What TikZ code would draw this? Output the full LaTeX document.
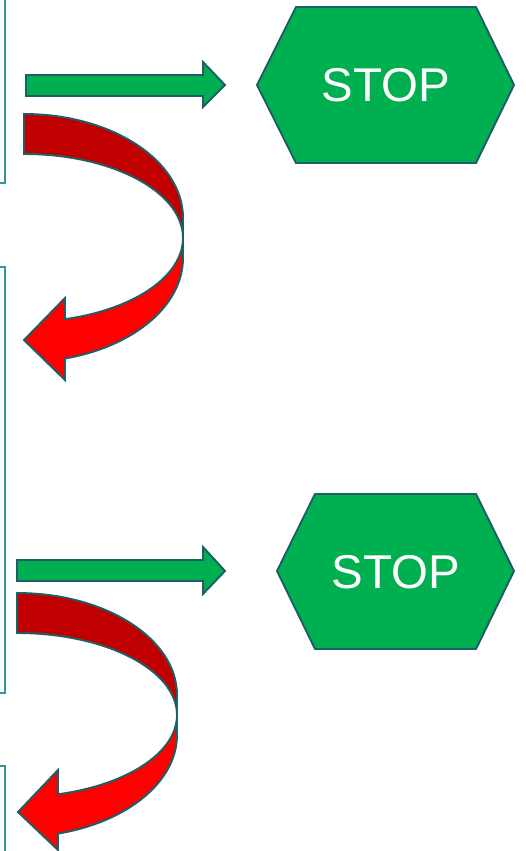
\documentclass[tikz,border=0pt]{standalone}
\usepackage{fontspec}
\setmainfont{Liberation Sans}
\definecolor{stopgreen}{HTML}{00B050}
\definecolor{edgeteal}{RGB}{30,94,102}
\definecolor{frameteal}{RGB}{52,150,152}
\definecolor{backred}{HTML}{C00000}
\definecolor{frontred}{HTML}{FF0000}

\begin{document}
\begin{tikzpicture}[
  x=0.02cm, y=-0.02cm,
  outline/.style={draw=edgeteal, line width=1.1pt},
  stopsign/.style={outline, fill=stopgreen},
  stoptext/.style={text=white, inner sep=0pt, font=\fontsize{27}{30}\selectfont},
  greenarrow/.style={outline, fill=stopgreen},
  backband/.style={outline, fill=backred},
  frontband/.style={outline, fill=frontred},
  framebox/.style={draw=frameteal, line width=1.1pt}
]
\useasboundingbox (0,0) rectangle (525,851);

% Frame edges on the left
\draw[framebox] (5,-5) -- (5,183) -- (-5,183);
\draw[framebox] (-5,267) -- (5,267) -- (5,693) -- (-5,693);
\draw[framebox] (-5,766) -- (5,766) -- (5,860);

% First STOP
\draw[stopsign] (257,85) -- (296,7) -- (476,7) -- (514,85) -- (476,163) -- (296,163) -- cycle;
\node[stoptext] (stop_A) at (386,85) {STOP};
\draw[greenarrow] (26,75) -- (203,75) -- (203,62) -- (225,85) -- (203,107) -- (203,96) -- (26,96) -- cycle;

% First turn back
\draw[backband] (24,114) arc[start angle=-90, end angle=0, x radius=159, y radius=104]
  -- (183,238) arc[start angle=0, end angle=-90, x radius=159, y radius=84] -- cycle;
\draw[frontband] (183,238) arc[start angle=0, end angle=75.06, x radius=159, y radius=84]
  -- (65,298) -- (24,340) -- (65,380) -- (65,358.5)
  arc[start angle=75.06, end angle=0, x radius=159, y radius=104] -- cycle;

% Second STOP
\draw[stopsign] (277,571) -- (315,494) -- (476,494) -- (514,571) -- (476,649) -- (315,649) -- cycle;
\node[stoptext] (stop_B) at (396,572) {STOP};
\draw[greenarrow] (17,560) -- (203,560) -- (203,547) -- (225,571) -- (203,594) -- (203,581) -- (17,581) -- cycle;

% Second turn back
\draw[backband] (17,593) arc[start angle=-90, end angle=0, x radius=160, y radius=102]
  -- (177,715) arc[start angle=0, end angle=-90, x radius=160, y radius=82] -- cycle;
\draw[frontband] (177,715) arc[start angle=0, end angle=75.15, x radius=160, y radius=82]
  -- (58,770) -- (18,812) -- (58,850) -- (58,833.6)
  arc[start angle=75.15, end angle=0, x radius=160, y radius=102] -- cycle;

\end{tikzpicture}
\end{document}
